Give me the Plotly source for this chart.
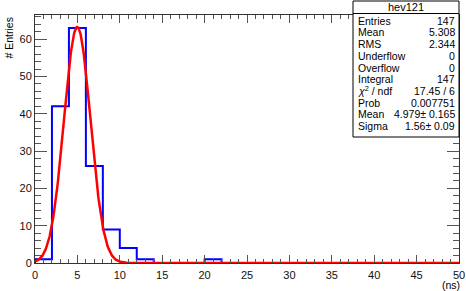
import numpy as np
import plotly.graph_objects as go

# ---- data ----
bin_edges = [0, 2, 4, 6, 8, 10, 12, 14, 16, 18, 20, 22, 24, 26, 28, 30, 32, 34, 36, 38, 40, 42, 44, 46, 48, 50]
bin_counts = [1, 42, 63, 26, 9, 4, 1, 0, 0, 0, 1, 0, 0, 0, 0, 0, 0, 0, 0, 0, 0, 0, 0, 0, 0]
fit_constant = 63.3
fit_mean = 4.979
fit_sigma = 1.56
stats_title = "hev121"
stats_labels = ["Entries", "Mean", "RMS", "Underflow", "Overflow", "Integral",
                "<i>χ</i><sup>2</sup> / ndf", "Prob", "Mean", "Sigma"]
stats_values = ["147", "5.308", "2.344", "0", "0", "147",
                "17.45 / 6", "0.007751", "4.979± 0.165", "1.56± 0.09"]
x_title = "(ns)"
y_title = "# Entries"

W, H = 466, 291
ML, MR, MT, MB = 35, 7, 15, 28
PW, PH = W - ML - MR, H - MT - MB

def px(x):
    return (x - ML) / PW

def py(y):
    return 1 - (y - MT) / PH

# step outline of histogram
sx, sy = [bin_edges[0]], [0]
for i, c in enumerate(bin_counts):
    sx += [bin_edges[i], bin_edges[i + 1]]
    sy += [c, c]
sx.append(bin_edges[-1]); sy.append(0)

xf = np.linspace(bin_edges[0], bin_edges[-1], 1000)
yf = fit_constant * np.exp(-0.5 * ((xf - fit_mean) / fit_sigma) ** 2)

fig = go.Figure()
fig.add_trace(go.Scatter(x=sx, y=sy, mode="lines", line=dict(color="#0000ff", width=2),
                         hoverinfo="skip", showlegend=False, cliponaxis=False))
fig.add_trace(go.Scatter(x=xf, y=yf, mode="lines", line=dict(color="#ff0000", width=2.5),
                         hoverinfo="skip", showlegend=False, cliponaxis=False))

font = "Liberation Sans, Arial, sans-serif"
tickc = "#555555"
fig.update_xaxes(range=[0, 50], tick0=0, dtick=5, ticks="inside", ticklen=8, tickwidth=1,
                 tickcolor=tickc, mirror="ticks", showline=True, linecolor="#333333", linewidth=1,
                 showgrid=False, zeroline=False, automargin=False, ticklabelstandoff=2,
                 minor=dict(dtick=1, ticks="inside", ticklen=4, tickcolor=tickc, showgrid=False),
                 tickfont=dict(family=font, size=11, color="#111"))
fig.update_yaxes(range=[0, 66.5], tick0=0, dtick=10, ticks="inside", ticklen=12, tickwidth=1,
                 tickcolor=tickc, mirror="ticks", showline=True, linecolor="#333333", linewidth=1,
                 showgrid=False, zeroline=False, automargin=False,
                 minor=dict(dtick=2, ticks="inside", ticklen=6, tickcolor=tickc, showgrid=False),
                 tickfont=dict(family=font, size=11, color="#111"))

shapes = []
# stats box
bx0, bx1, by0, by1 = 353, 459, 1, 137
shapes.append(dict(type="rect", xref="paper", yref="paper", x0=px(bx0), x1=px(bx1),
                   y0=py(by1), y1=py(by0), fillcolor="white", line=dict(color="black", width=1),
                   layer="above"))
shapes.append(dict(type="line", xref="paper", yref="paper", x0=px(bx0), x1=px(bx1),
                   y0=py(13.5), y1=py(13.5), line=dict(color="black", width=1), layer="above"))

ann = []
ann.append(dict(text=stats_title, x=px((bx0 + bx1) / 2), y=py(7.5), xref="paper", yref="paper",
                showarrow=False, xanchor="center", yanchor="middle",
                font=dict(family=font, size=11, color="black")))
y0, dy = 20.5, 11.75
for i, (lab, val) in enumerate(zip(stats_labels, stats_values)):
    yy = y0 + i * dy
    ann.append(dict(text=lab, x=px(bx0 + 3), y=py(yy), xref="paper", yref="paper",
                    showarrow=False, xanchor="left", yanchor="middle",
                    font=dict(family=font, size=10.5, color="black")))
    ann.append(dict(text=val, x=px(bx1 - 2), y=py(yy), xref="paper", yref="paper",
                    showarrow=False, xanchor="right", yanchor="middle",
                    font=dict(family=font, size=10.5, color="black")))
ann.append(dict(text=y_title, x=px(8), y=py(16), xref="paper", yref="paper", textangle=-90,
                showarrow=False, xanchor="center", yanchor="top",
                font=dict(family=font, size=10.5, color="black")))
ann.append(dict(text=x_title, x=px(462), y=py(284.5), xref="paper", yref="paper",
                showarrow=False, xanchor="right", yanchor="middle",
                font=dict(family=font, size=10.5, color="black")))

fig.update_layout(width=W, height=H, margin=dict(l=ML, r=MR, t=MT, b=MB, autoexpand=False),
                  paper_bgcolor="white", plot_bgcolor="white", shapes=shapes, annotations=ann,
                  showlegend=False)
fig.write_html("out.html", config={"displayModeBar": False, "staticPlot": True})

with open("out.html", "r", encoding="utf-8") as f:
    html = f.read()
html = html.replace("<head>", "<head><style>html,body{margin:0;padding:0;overflow:hidden;}</style>", 1)
with open("out.html", "w", encoding="utf-8") as f:
    f.write(html)
